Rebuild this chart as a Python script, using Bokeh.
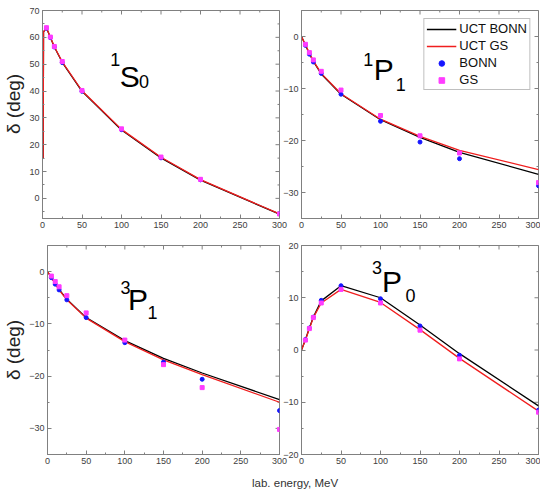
import math
from bokeh.plotting import figure
from bokeh.models import Range1d, SingleIntervalTicker, Label, Legend, LegendItem, Div
from bokeh.layouts import column, row
from bokeh.embed import file_html
from bokeh.resources import INLINE

# ---------------- data ----------------
energies = [5, 10, 15, 25, 50, 100, 150, 200, 300]
curve_energies = [0, 5, 10, 15, 25, 50, 100, 150, 200, 300]
s0_curve_energies = [0.8, 1.3, 5, 10, 15, 25, 50, 100, 150, 200, 300]

s0_uct_bonn = [15, 62, 63.5, 59.9, 56.4, 50.7, 39.9, 25.5, 15.1, 6.8, -5.9]
s0_uct_gs = [15, 62, 63.6, 60.0, 56.5, 50.9, 40.1, 25.7, 15.3, 7.0, -5.8]
s0_bonn = [63.4, 59.9, 56.4, 50.6, 39.9, 25.6, 15.1, 6.9, -5.8]
s0_gs = [63.6, 60.1, 56.6, 51.0, 40.2, 25.9, 15.4, 7.1, -5.8]

p1_uct_bonn = [0, -1.7, -3.3, -4.8, -7.2, -11.1, -16.0, -19.4, -22.3, -26.5]
p1_uct_gs = [0, -1.6, -3.2, -4.7, -7.1, -11.0, -15.9, -19.2, -21.9, -25.6]
p1_bonn = [-1.7, -3.4, -4.9, -7.1, -11.1, -16.3, -20.3, -23.5, -28.7]
p1_gs = [-1.5, -3.1, -4.5, -6.7, -10.3, -15.2, -19.1, -22.4, -28.1]

tp1_uct_bonn = [0, -1.1, -2.3, -3.4, -5.3, -8.8, -13.2, -16.6, -19.4, -24.5]
tp1_uct_gs = [0, -1.1, -2.3, -3.5, -5.4, -8.9, -13.4, -16.9, -19.7, -25.0]
tp1_bonn = [-1.15, -2.4, -3.5, -5.4, -8.8, -13.6, -17.3, -20.6, -26.6]
tp1_gs = [-0.85, -1.9, -2.9, -4.6, -7.9, -13.1, -17.8, -22.2, -30.2]

tp0_uct_bonn = [0, 2.0, 4.2, 6.3, 9.4, 12.3, 10.0, 4.8, -0.7, -10.7]
tp0_uct_gs = [0, 1.9, 4.1, 6.2, 9.0, 11.6, 9.1, 3.9, -1.6, -11.7]
tp0_bonn = [2.0, 4.2, 6.3, 9.5, 12.3, 9.8, 4.6, -1.0, -11.5]
tp0_gs = [1.9, 4.1, 6.2, 9.0, 11.6, 9.0, 3.8, -1.7, -11.9]

x_major_ticks = [0, 50, 100, 150, 200, 250, 300]
x_minor_ticks = [25, 75, 125, 175, 225, 275]
y_ticks_step = 10
y_title = "δ (deg)"
x_title = "lab. energy, MeV"

# ---------------- style ----------------
FONT = "Liberation Sans"
GRAY = "#808080"
TICK_TXT = "#404040"
BLACK = "#000000"
RED = "#f01e1e"
BLUE = "#1515ff"
MAGENTA = "#ff3cff"


def style_axis(ax):
    ax.axis_line_color = GRAY
    ax.major_tick_line_color = GRAY
    ax.minor_tick_line_color = GRAY
    ax.major_tick_in = 4
    ax.major_tick_out = 0
    ax.minor_tick_in = 2
    ax.minor_tick_out = 0
    ax.major_label_text_font = FONT
    ax.major_label_text_color = TICK_TXT
    ax.major_label_text_font_size = "9px"
    ax.major_label_standoff = 3


def mirror_ticks(p, yr):
    # tick marks on the top and right frame edges (half of each dash is clipped by the frame)
    y_major = [v for v in range(-40, 80, y_ticks_step) if yr[0] <= v <= yr[1]]
    y_minor = [v + y_ticks_step / 2 for v in range(-40, 80, y_ticks_step)
               if yr[0] <= v + y_ticks_step / 2 <= yr[1]]
    p.scatter(x_major_ticks, [yr[1]] * len(x_major_ticks), marker="dash", size=8, angle=math.pi / 2,
              line_color=GRAY, line_width=1)
    p.scatter(x_minor_ticks, [yr[1]] * len(x_minor_ticks), marker="dash", size=4, angle=math.pi / 2,
              line_color=GRAY, line_width=1)
    p.scatter([300] * len(y_major), y_major, marker="dash", size=8, line_color=GRAY, line_width=1)
    p.scatter([300] * len(y_minor), y_minor, marker="dash", size=4, line_color=GRAY, line_width=1)


def make_panel(yr, w, h, left, right, top, bottom, ylabel=None, shift=0):
    p = figure(width=w, height=h,
               x_range=Range1d(0, 300), y_range=Range1d(*yr),
               output_backend="svg", toolbar_location=None,
               min_border_left=left, min_border_right=right,
               min_border_top=top, min_border_bottom=bottom)
    p.xgrid.visible = False
    p.ygrid.visible = False
    p.outline_line_color = GRAY
    p.outline_line_width = 1
    p.background_fill_color = "white"
    if shift:
        p.border_fill_color = None
        p.margin = (0, 0, 0, shift)
    p.xaxis.ticker = SingleIntervalTicker(interval=50, num_minor_ticks=2)
    p.yaxis.ticker = SingleIntervalTicker(interval=y_ticks_step, num_minor_ticks=2)
    style_axis(p.xaxis[0])
    style_axis(p.yaxis[0])
    mirror_ticks(p, yr)
    if ylabel:
        ax = p.yaxis[0]
        ax.axis_label = ylabel
        ax.axis_label_text_font = FONT
        ax.axis_label_text_font_style = "normal"
        ax.axis_label_text_font_size = "19px"
        ax.axis_label_text_color = "#222222"
        ax.axis_label_standoff = 2
    return p


def draw(p, uct_b, uct_g, bonn, gs, cx=curve_energies):
    lb = p.line(cx, uct_b, line_color=BLACK, line_width=1.3)
    lg = p.line(cx, uct_g, line_color=RED, line_width=1.3)
    sb = p.scatter(energies, bonn, marker="circle", size=4, fill_color=BLUE, line_color=BLUE)
    sg = p.scatter(energies, gs, marker="square", size=4, fill_color=MAGENTA, line_color=MAGENTA)
    return lb, lg, sb, sg


def wave_label(p, sup, main, sub, xs, ys, xm, ym, xb, yb):
    # y values are the vertical centres of the glyphs
    p.add_layout(Label(x=xs, y=ys, text=sup, text_font=FONT, text_font_size="18px",
                       text_color="black", text_align="left", text_baseline="middle"))
    p.add_layout(Label(x=xm, y=ym, text=main, text_font=FONT, text_font_size="30px",
                       text_color="black", text_align="left", text_baseline="middle"))
    p.add_layout(Label(x=xb, y=yb, text=sub, text_font=FONT, text_font_size="18px",
                       text_color="black", text_align="left", text_baseline="middle"))


# top-left 1S0
p_s0 = make_panel((-7.5, 70), 288, 236, 41, 9, 10, 18, ylabel="\u00a0\u00a0\u00a0\u00a0" + y_title)
draw(p_s0, s0_uct_bonn, s0_uct_gs, s0_bonn, s0_gs, cx=s0_curve_energies)
wave_label(p_s0, "1", "S", "0", 85.7, 51.8, 97.7, 45.4, 122.0, 43.6)

# top-right 1P1
p_p1 = make_panel((-35, 5), 260, 236, 20, 2, 10, 18, shift=-8)
rb, rg, rsb, rsg = draw(p_p1, p1_uct_bonn, p1_uct_gs, p1_bonn, p1_gs)
wave_label(p_p1, "1", "P", "1", 78.2, -4.43, 91.5, -6.35, 119.4, -9.23)
legend = Legend(items=[LegendItem(label="UCT BONN", renderers=[rb]),
                       LegendItem(label="UCT GS", renderers=[rg]),
                       LegendItem(label="BONN", renderers=[rsb]),
                       LegendItem(label="GS", renderers=[rsg])],
                location="top_right")
legend.margin = 8
legend.padding = 2
legend.spacing = 2
legend.glyph_width = 30
legend.glyph_height = 14
legend.label_height = 14
legend.label_standoff = 3
legend.label_text_font = FONT
legend.label_text_font_size = "13px"
legend.label_text_color = "#111111"
legend.border_line_color = GRAY
legend.border_line_width = 1
legend.background_fill_color = "white"
legend.background_fill_alpha = 1.0
p_p1.add_layout(legend)

# bottom-left 3P1
p_tp1 = make_panel((-35, 5), 288, 232, 41, 9, 9, 14, ylabel=y_title)
draw(p_tp1, tp1_uct_bonn, tp1_uct_gs, tp1_bonn, tp1_gs)
wave_label(p_tp1, "3", "P", "1", 94.5, -2.95, 104.0, -5.24, 129.4, -7.73)

# bottom-right 3P0
p_tp0 = make_panel((-20, 20), 260, 232, 20, 2, 9, 14, shift=-8)
draw(p_tp0, tp0_uct_bonn, tp0_uct_gs, tp0_bonn, tp0_gs)
wave_label(p_tp0, "3", "P", "0", 89.1, 15.7, 102.0, 13.1, 131.5, 10.4)

xlabel = Div(text=('<div style="font-family:\'Liberation Sans\',Arial,sans-serif;'
                   'font-size:11.5px;color:#333333;padding-left:252px;padding-top:9px;'
                   'line-height:13px;white-space:nowrap">' + x_title + '</div>'),
             width=540, height=23, margin=(0, 0, 0, 0))

layout = column(row(p_s0, p_p1), row(p_tp1, p_tp0), xlabel)

open("out.html", "w").write(file_html(layout, INLINE))
